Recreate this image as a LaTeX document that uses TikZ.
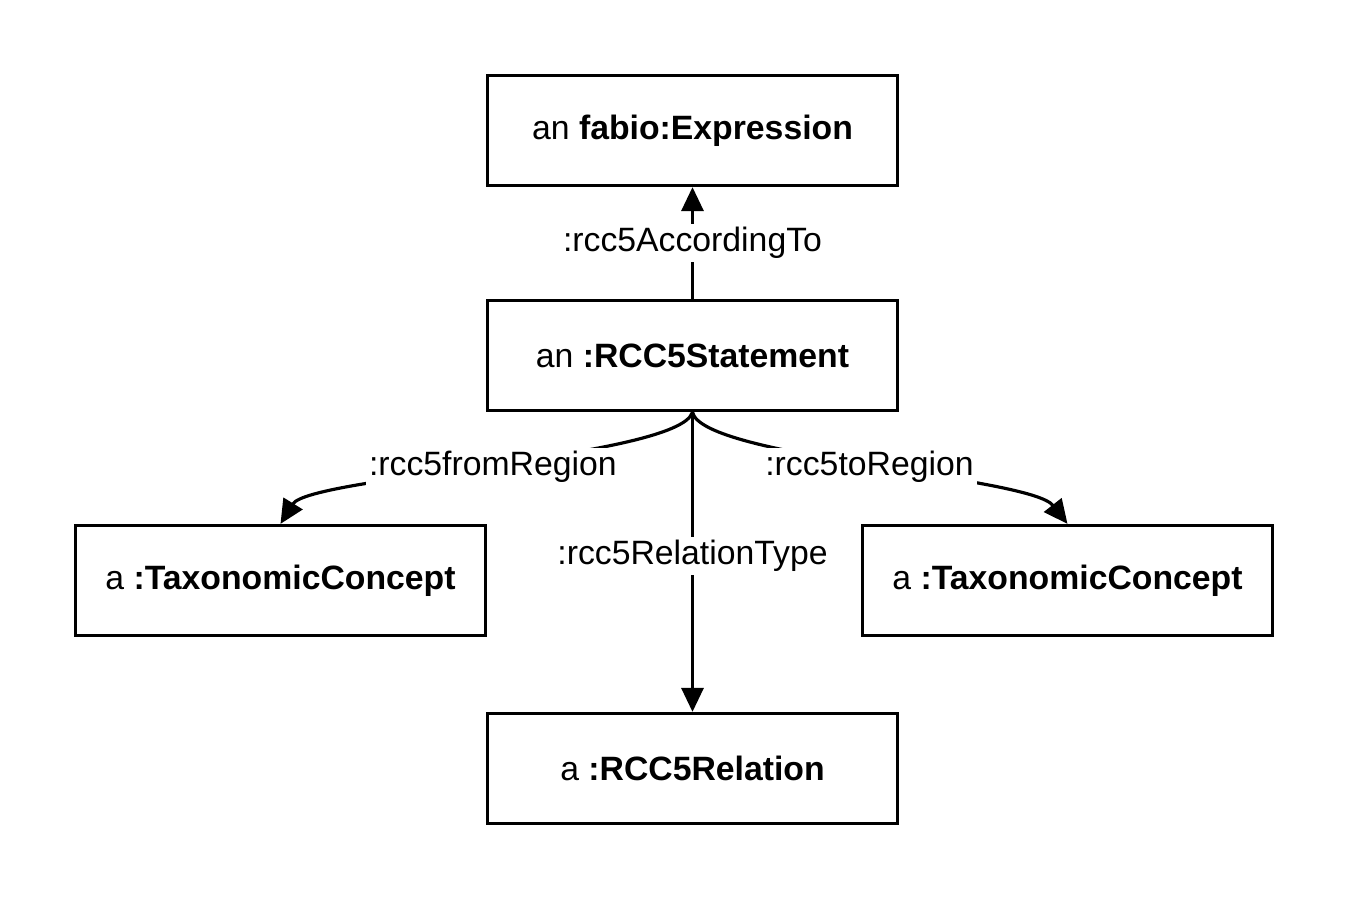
\documentclass[tikz,border=0pt]{standalone}
\usepackage{fontspec}
\setmainfont{Liberation Sans}
\usetikzlibrary{arrows.meta}

\tikzset{
  obj/.style={draw, line width=0.9pt, minimum width=4.1cm, minimum height=1.1cm,
    font=\fontsize{9.6}{11}\selectfont},
  rel/.style={fill=white, inner sep=1pt, font=\fontsize{9.6}{11}\selectfont},
  link/.style={line width=0.9pt, -{Triangle[length=2.4mm,width=2.2mm]}}
}

\begin{document}
\begin{tikzpicture}[x=0.01cm, y=-0.01cm]
  \useasboundingbox (0,0) rectangle (1350,900);

  % oggetti
  \node[obj] (expr) at (692.5,130.5) {an \textbf{fabio:Expression}};
  \node[obj] (stmt) at (692.5,355.5) {an \textbf{:RCC5Statement}};
  \node[obj] (tcl)  at (280.5,580.5) {a \textbf{:TaxonomicConcept}};
  \node[obj] (tcr)  at (1067.5,580.5) {a \textbf{:TaxonomicConcept}};
  \node[obj] (rcc)  at (692.5,768.5) {a \textbf{:RCC5Relation}};

  % proprieta
  \draw[link] (stmt) -- node[rel] {:rcc5AccordingTo} (expr);
  \draw[link] (stmt) -- node[rel, pos=0.48] {:rcc5RelationType} (rcc);
  \draw[link] (stmt.south) .. controls (680,458) and (310,476) ..
    node[rel] {:rcc5fromRegion} (tcl.north);
  \draw[link] (stmt.south) .. controls (702,458) and (1030,476) ..
    node[rel] {:rcc5toRegion} (tcr.north);
\end{tikzpicture}
\end{document}
